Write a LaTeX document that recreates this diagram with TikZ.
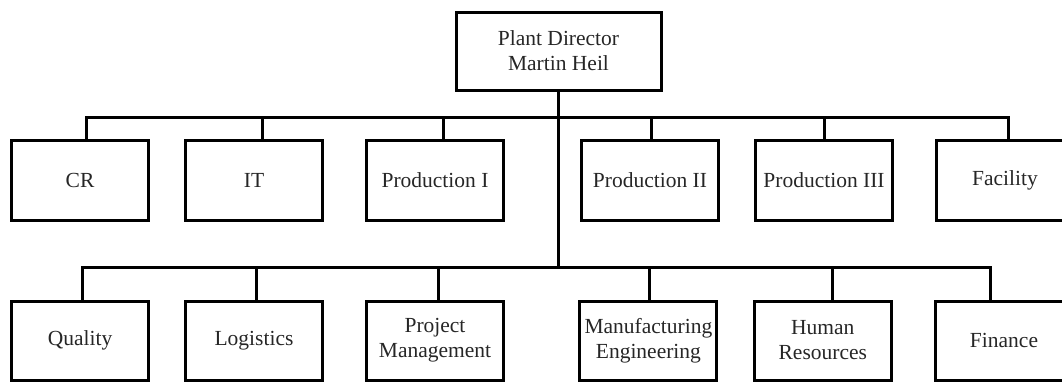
\documentclass[tikz,border=0pt]{standalone}
\usepackage{fontspec}
\setmainfont{Liberation Serif}
\begin{document}
\begin{tikzpicture}[x=1pt,y=-1pt,
  box/.style={draw=black, line width=3pt, minimum width=137pt, minimum height=80pt,
    inner sep=0pt, align=center, font=\fontsize{21.5}{25}\selectfont, text=black!85},
  conn/.style={draw=black, line width=3pt}]
\useasboundingbox (0,0) rectangle (1062,381);
% director
\node[box, minimum width=205pt, minimum height=78pt] (dir) at (558.5,51) {Plant Director\\Martin Heil};
% row 1
\node[box] (cr)   at (80,180)    {CR};
\node[box] (it)   at (254,180)   {IT};
\node[box] (p1)   at (435,180)   {Production I};
\node[box] (p2)   at (650,180)   {Production II};
\node[box] (p3)   at (824,180)   {Production III};
\node[box] (fac)  at (1005,180)  {Facility};
% row 2
\node[box, minimum height=79pt] (qual) at (80,340.5)   {Quality};
\node[box, minimum height=79pt] (log)  at (254,340.5)  {Logistics};
\node[box, minimum height=79pt] (pm)   at (435,340.5)  {Project\\Management};
\node[box, minimum height=79pt] (me)   at (648.4,340.5){Manufacturing\\Engineering};
\node[box, minimum height=79pt] (hr)   at (822.8,340.5){Human\\Resources};
\node[box, minimum height=79pt] (fin)  at (1004,340.5) {Finance};
% bus coordinates, row 1
\coordinate (a1) at (86,117);
\coordinate (a2) at (262.7,117);
\coordinate (a3) at (443.2,117);
\coordinate (a4) at (651.7,117);
\coordinate (a5) at (824.2,117);
\coordinate (a6) at (1008,117);
% bus coordinates, row 2
\coordinate (b1) at (82.6,267);
\coordinate (b2) at (256.5,267);
\coordinate (b3) at (438,267);
\coordinate (b4) at (649,267);
\coordinate (b5) at (832.8,267);
\coordinate (b6) at (990,267);
% stem
\draw[conn] (dir.south) -- (dir.south |- b1);
% row 1 bus
\draw[conn] (a1 |- cr.north) -- (a1) -- (a6) -- (a6 |- fac.north);
\draw[conn] (a2) -- (a2 |- it.north);
\draw[conn] (a3) -- (a3 |- p1.north);
\draw[conn] (a4) -- (a4 |- p2.north);
\draw[conn] (a5) -- (a5 |- p3.north);
% row 2 bus
\draw[conn] (b1 |- qual.north) -- (b1) -- (b6) -- (b6 |- fin.north);
\draw[conn] (b2) -- (b2 |- log.north);
\draw[conn] (b3) -- (b3 |- pm.north);
\draw[conn] (b4) -- (b4 |- me.north);
\draw[conn] (b5) -- (b5 |- hr.north);
\end{tikzpicture}
\end{document}
